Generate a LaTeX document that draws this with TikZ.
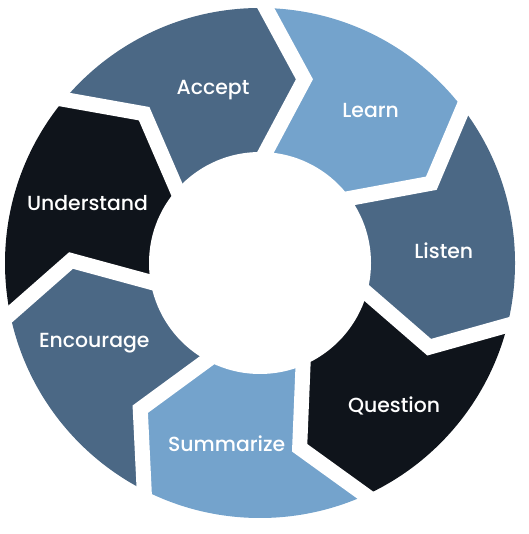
\documentclass[tikz,border=0pt]{standalone}
\usepackage{fontspec}
\setmainfont{Poppins}[UprightFont={* Medium}]
\usetikzlibrary{calc}
\definecolor{slate}{HTML}{4B6885}
\definecolor{sky}{HTML}{74A3CC}
\definecolor{ink}{HTML}{0F141B}
\begin{document}
\begin{tikzpicture}[x=1pt,y=1pt,
  lbl/.style={text=white, anchor=base, inner sep=0pt, font=\fontsize{20.4}{24}\selectfont},
  gapline/.style={white, line width=15pt, line join=miter, miter limit=20}]
\useasboundingbox (0,0) rectangle (528,534);
\coordinate (C) at (260,271);
\foreach \k in {0,...,6}{
  \pgfmathsetmacro{\p}{88.7-51.43*\k}
  \coordinate (O\k) at ($(C)+({\p}:255pt)$);
  \coordinate (M\k) at ($(C)+({\p-12.3}:189pt)$);
  \coordinate (I\k) at ($(C)+({\p-1.6}:111pt)$);
  \coordinate (Oe\k) at ($(M\k)!2!(O\k)$);
  \coordinate (Ie\k) at ($(M\k)!1.6!(I\k)$);
  \coordinate (F\k) at ($(C)+({\p+12}:420pt)$);
  \coordinate (G\k) at ($(C)+({\p-25.7}:420pt)$);
}
\begin{scope}
  \clip (C) circle (255pt);
  % Accept
  \fill[slate] (C) -- (Ie6) -- (M6) -- (Oe6) -- (F6) -- (G6) -- (F0) -- (Oe0) -- (M0) -- (Ie0) -- cycle;
  % Learn
  \fill[sky] (C) -- (Ie0) -- (M0) -- (Oe0) -- (F0) -- (G0) -- (F1) -- (Oe1) -- (M1) -- (Ie1) -- cycle;
  % Listen
  \fill[slate] (C) -- (Ie1) -- (M1) -- (Oe1) -- (F1) -- (G1) -- (F2) -- (Oe2) -- (M2) -- (Ie2) -- cycle;
  % Question
  \fill[ink] (C) -- (Ie2) -- (M2) -- (Oe2) -- (F2) -- (G2) -- (F3) -- (Oe3) -- (M3) -- (Ie3) -- cycle;
  % Summarize
  \fill[sky] (C) -- (Ie3) -- (M3) -- (Oe3) -- (F3) -- (G3) -- (F4) -- (Oe4) -- (M4) -- (Ie4) -- cycle;
  % Encourage
  \fill[slate] (C) -- (Ie4) -- (M4) -- (Oe4) -- (F4) -- (G4) -- (F5) -- (Oe5) -- (M5) -- (Ie5) -- cycle;
  % Understand
  \fill[ink] (C) -- (Ie5) -- (M5) -- (Oe5) -- (F5) -- (G5) -- (F6) -- (Oe6) -- (M6) -- (Ie6) -- cycle;
\end{scope}
\foreach \k in {0,...,6}{
  \draw[gapline] (Oe\k) -- (M\k) -- (Ie\k);
}
\fill[white] (C) circle (111pt);
\node[lbl] (accept) at (213,439.7) {Accept};
\node[lbl] (learn) at (370.7,416) {Learn};
\node[lbl] (listen) at (443.8,275) {Listen};
\node[lbl] (question) at (394,121.3) {Question};
\node[lbl] (summarize) at (226.7,82.3) {Summarize};
\node[lbl] (encourage) at (94.3,186) {Encourage};
\node[lbl] (understand) at (87.5,323.3) {Understand};
\end{tikzpicture}
\end{document}
